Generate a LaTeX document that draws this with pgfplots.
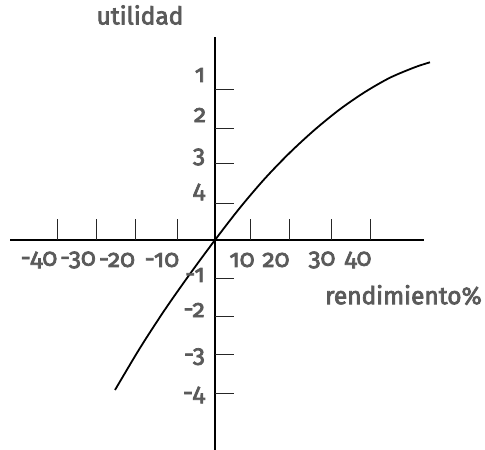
\documentclass[border=0pt]{standalone}
\usepackage{fontspec}
\setmainfont{Fira Sans}[Numbers=OldStyle]
\newfontfamily\lab{Fira Sans}[Numbers=OldStyle, FakeBold=3]
\usepackage{pgfplots}
\pgfplotsset{compat=1.18}
\definecolor{txt}{HTML}{5A5A5A}
\begin{document}
\begin{tikzpicture}
\begin{axis}[
  x=1pt, y=1pt,
  axis lines=middle,
  axis line style={line width=2pt, -},
  xmin=-205, xmax=209, ymin=-210, ymax=203,
  xtick=\empty, ytick=\empty,
  clip=false,
]
\addplot[black, line width=1.8pt, smooth] coordinates {
(-100,-150) (-75,-108) (-50,-69.5) (-25,-33.9) (0,0)
(25,32.3) (50,61.6) (75,87.5) (100,110.5) (125,130.8) (150,148) (175,162.3) (200,172.8) (215,177.7)
};
% ticks
\pgfplotsinvokeforeach{-157.3,-119,-79.3,-37.3,35.7,74.3,116.7,155}{
  \draw[line width=1pt, black!85] (axis cs:#1,0) -- (axis cs:#1,21);
}
\pgfplotsinvokeforeach{150,111.3,76.7,36.7,-38.3,-76.7,-115,-153.3}{
  \draw[line width=1pt, black!85] (axis cs:0,#1) -- (axis cs:19,#1);
}
% labels
\begin{scope}[every node/.style={text=txt, font=\lab\fontsize{24.5}{28}\selectfont, inner sep=0pt}]
\node at (axis cs:-75,225) {utilidad};
\node at (axis cs:-15,165) {1};
\node at (axis cs:-15,125) {2};
\node at (axis cs:-16,83) {3};
\node at (axis cs:-16,48) {4};
\node[anchor=east] at (axis cs:-10,-35) {-1};
\node[anchor=east] at (axis cs:-10,-70) {-2};
\node[anchor=east] at (axis cs:-10,-116.7) {-3};
\node[anchor=east] at (axis cs:-10,-155) {-4};
\node at (axis cs:-176,-20) {-40};
\node at (axis cs:-137,-20) {-30};
\node at (axis cs:-98,-20) {-20};
\node at (axis cs:-53,-20) {-10};
\node at (axis cs:27,-20) {10};
\node at (axis cs:61,-20) {20};
\node at (axis cs:107,-20) {30};
\node at (axis cs:143,-20) {40};
\node[anchor=east] at (axis cs:267,-55) {rendimiento\%};
\end{scope}
\coordinate (bl) at (axis cs:-215,-210);
\coordinate (tr) at (axis cs:270,240);
\end{axis}
\pgfresetboundingbox
\path[use as bounding box] (bl) rectangle (tr);
\end{tikzpicture}
\end{document}
